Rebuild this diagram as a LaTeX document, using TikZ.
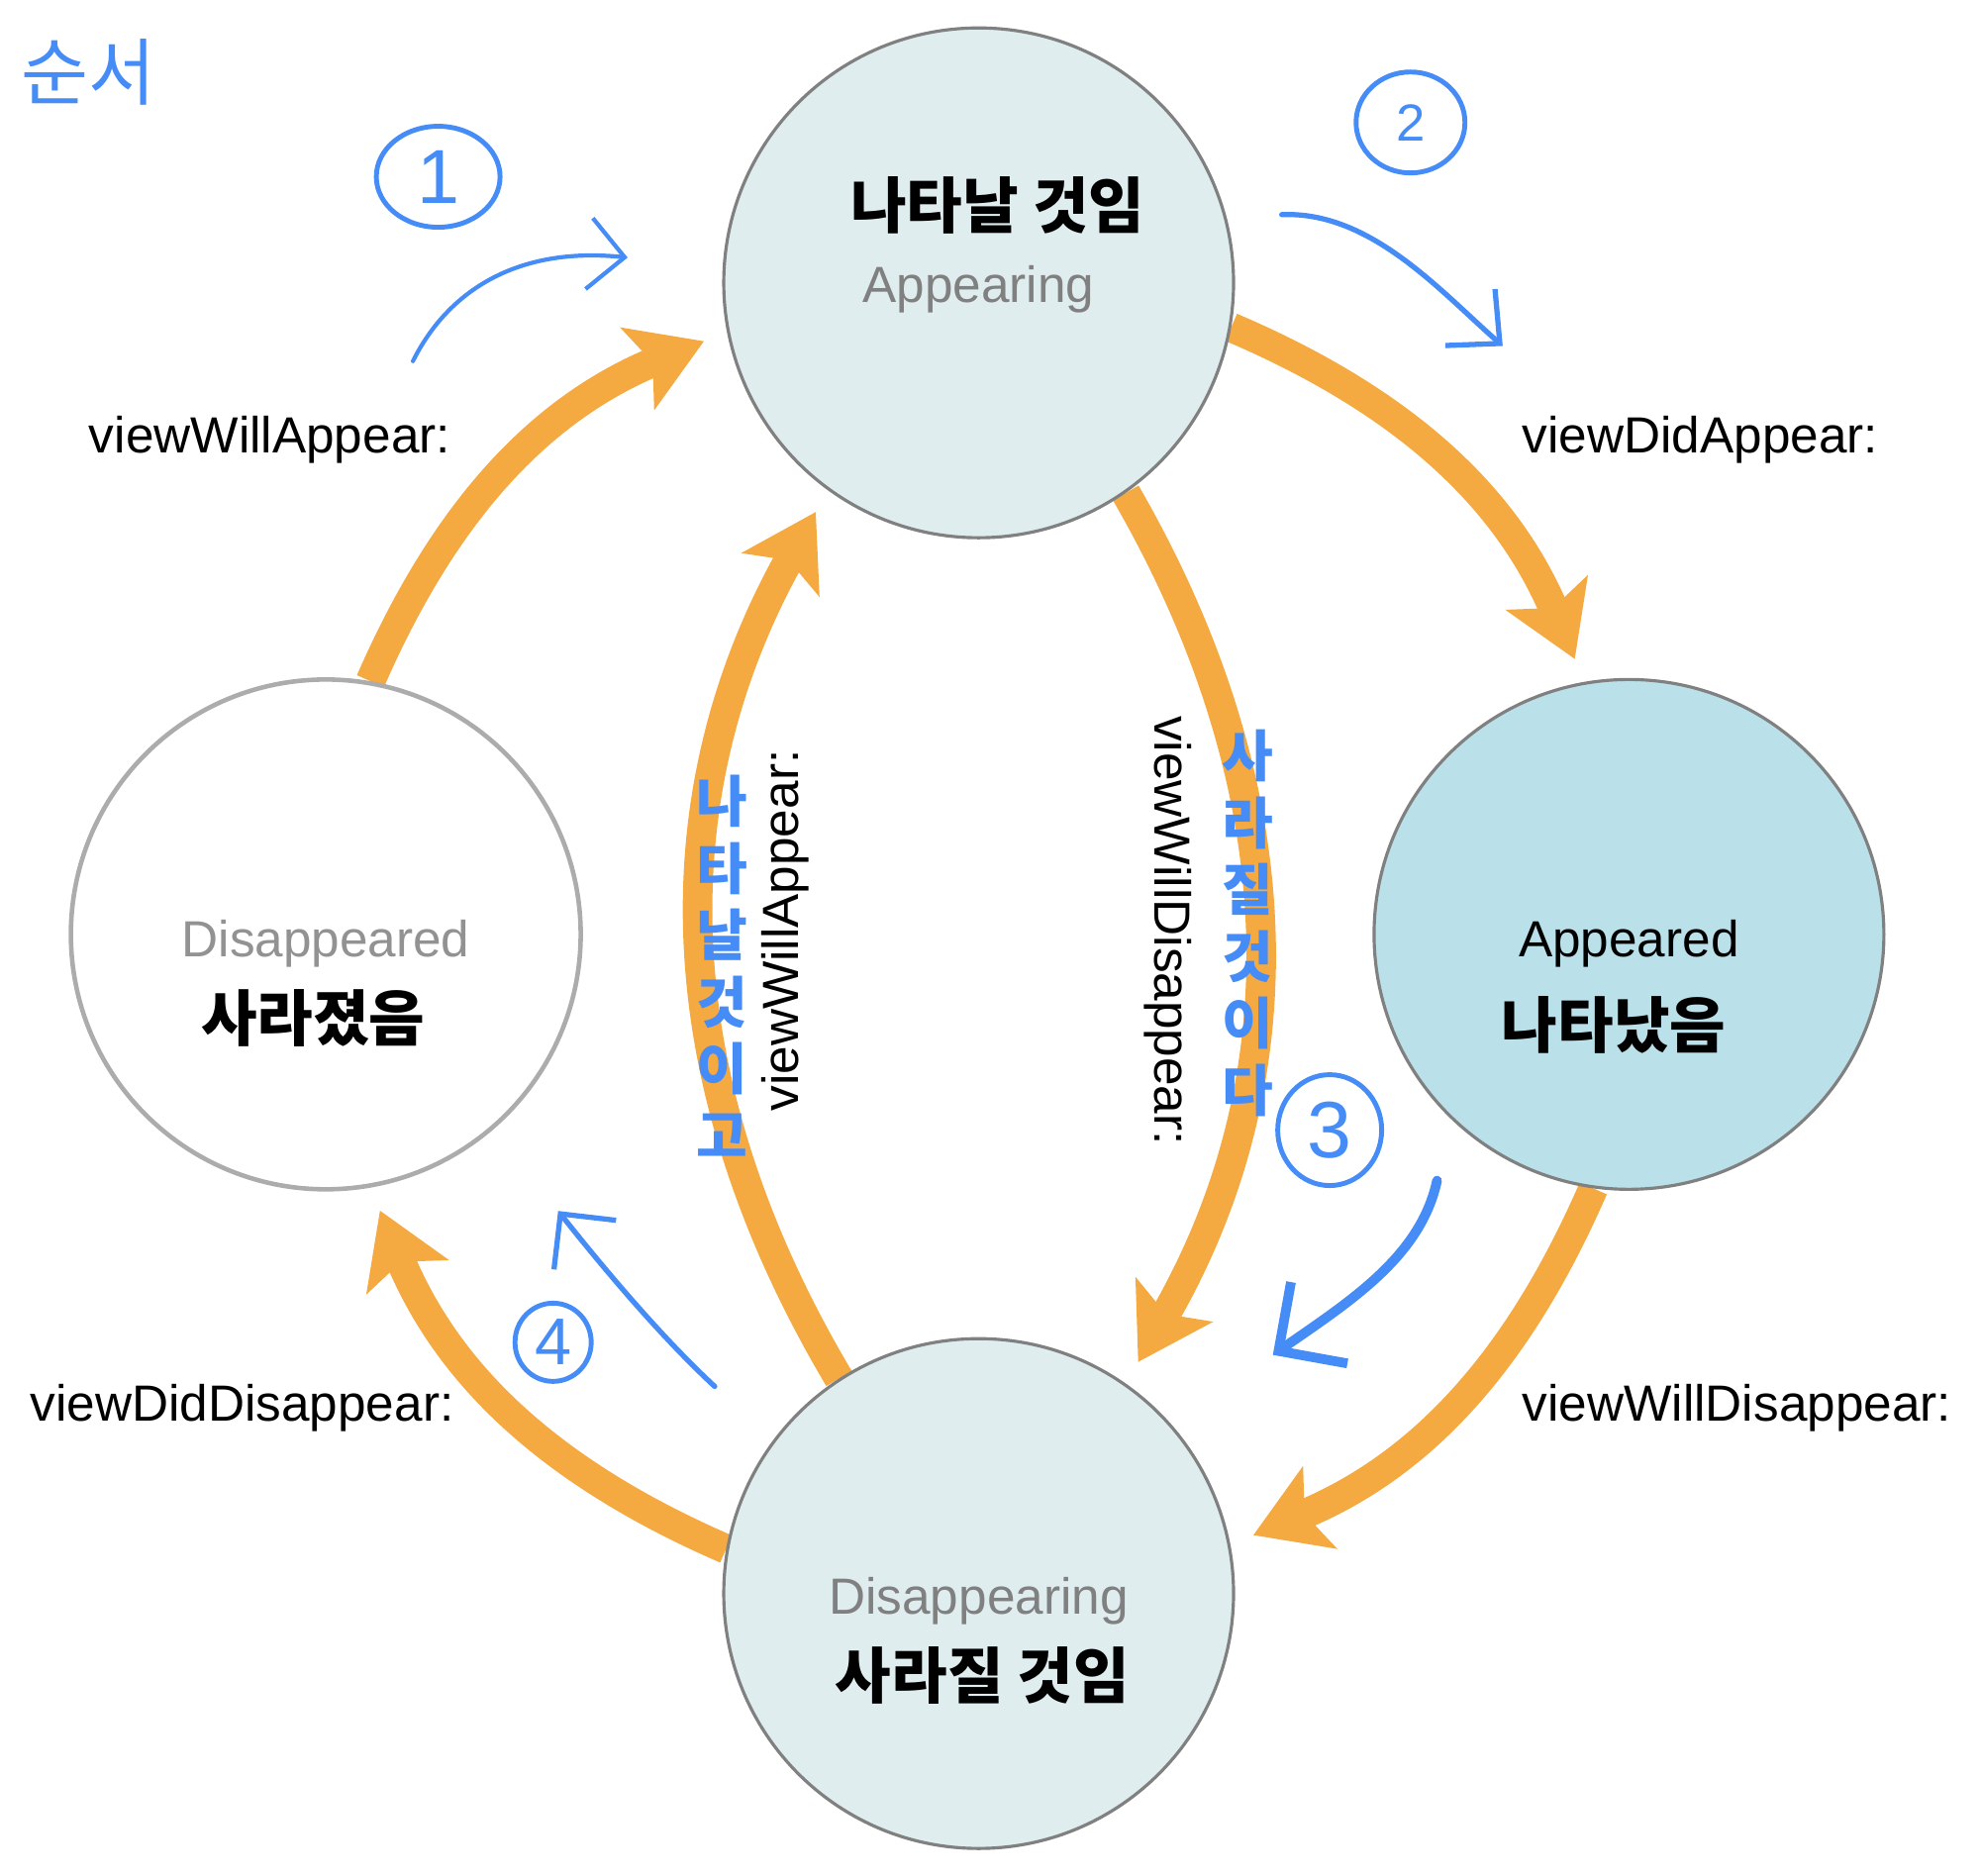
\documentclass[tikz,border=0pt]{standalone}
\usepackage{fontspec}
\setmainfont{Liberation Sans}
\newfontfamily\kr{Noto Sans CJK KR}
\usetikzlibrary{arrows.meta,shapes.geometric,backgrounds}
\definecolor{flowor}{RGB}{245,169,65}
\definecolor{penblue}{RGB}{70,140,247}
\definecolor{statefill}{RGB}{223,237,238}
\definecolor{shownfill}{RGB}{186,224,234}
\definecolor{rimgray}{RGB}{128,128,128}
\definecolor{fadegray}{RGB}{172,172,172}
\begin{document}
\begin{tikzpicture}[x=0.012755cm,y=0.012755cm,line join=round]
    \tikzset{state/.style={circle,draw=rimgray,line width=0.9pt,minimum size=5.15cm,inner sep=0pt},
        flow/.style={draw=flowor,line width=8.5pt,-{Stealth[length=7.2mm,width=8.8mm,inset=1.6mm]},shorten >=0.25cm},
        enname/.style={font=\fontsize{14.6}{17}\selectfont,text=rimgray},
        krname/.style={font=\kr\bfseries\fontsize{17.5}{20}\selectfont},
        call/.style={font=\fontsize{14.6}{17}\selectfont,inner sep=0pt},
        pen/.style={draw=penblue,line width=1.2pt,line cap=round},
        penmark/.style={ellipse,draw=penblue,line width=1.4pt,text=penblue,inner sep=0pt},
        penword/.style={text=penblue,font=\kr\bfseries\fontsize{16}{19.2}\selectfont,align=center,inner sep=0pt}}
    \def \outbend{22}
    \def \inbend{30}
    \useasboundingbox (0,0) rectangle (1568,1485);
    % states
    \node[state,fill=statefill] (app) at (775,1261) {};
    \node[state,fill=shownfill] (shown) at (1290,745) {};
    \node[state,fill=statefill] (going) at (775,223) {};
    \node[state,fill=white,draw=fadegray,line width=1.3pt] (gone) at (258,745) {};
    \node[krname] (app-kr) at (790,1322) {나타날 것임};
    \node[enname] (app-en) at (775,1256) {Appearing};
    \node[enname,text=black] (shown-en) at (1290,738) {Appeared};
    \node[krname] (shown-kr) at (1278,673) {나타났음};
    \node[enname] (going-en) at (775,217) {Disappearing};
    \node[krname] (going-kr) at (778,158) {사라질 것임};
    \node[enname,text=fadegray!85!black] (gone-en) at (258,738) {Disappeared};
    \node[krname] (gone-kr) at (248,679) {사라졌음};
    % transitions
    \begin{scope}[on background layer]
        \draw[flow] (gone.80) to[bend left=\outbend] (app.191);
        \draw[flow] (app.350) to[bend left=\outbend] (shown.100);
        \draw[flow] (shown.262) to[bend left=\outbend] (going.11);
        \draw[flow] (going.170) to[bend left=\outbend] (gone.280);
        \draw[flow] (going.123) to[bend left=\inbend] (app.234);
        \draw[flow] (app.305) to[bend left=\inbend] (going.55);
    \end{scope}
    \node[call,anchor=west] (will-app) at (70,1137) {viewWillAppear:};
    \node[call,anchor=west] (did-app) at (1205,1137) {viewDidAppear:};
    \node[call,anchor=west] (will-dis) at (1205,370) {viewWillDisappear:};
    \node[call,anchor=east] (did-dis) at (360,370) {viewDidDisappear:};
    \node[call,rotate=90] (will-app-in) at (622,748) {viewWillAppear:};
    \node[call,rotate=-90] (will-dis-in) at (925,748) {viewWillDisappear:};
    % pen notes
    \node[penword,font=\kr\fontsize{21}{24}\selectfont] (order) at (70,1428) {순서};
    \node[penmark,minimum width=1.25cm,minimum height=1.02cm,font=\fontsize{22}{24}\selectfont] (mark1) at (347,1345) {1};
    \node[penmark,minimum width=1.10cm,minimum height=1.02cm,font=\fontsize{15}{18}\selectfont] (mark2) at (1117,1388) {2};
    \node[penmark,minimum width=1.05cm,minimum height=1.12cm,font=\fontsize{23}{26}\selectfont] (mark3) at (1053,590) {3};
    \node[penmark,minimum width=0.77cm,minimum height=0.79cm,font=\fontsize{19}{22}\selectfont] (mark4) at (438,422) {4};
    \node[penword] (app-note) at (572,720) {나\\타\\날\\것\\이\\고};
    \node[penword] (dis-note) at (988,754) {사\\라\\질\\것\\이\\다};
    \coordinate (p1a) at (327,1199);
    \coordinate (p1b) at (497,1281);
    \coordinate (p2a) at (1015,1315);
    \coordinate (p2b) at (1190,1211);
    \coordinate (p3a) at (1138,550);
    \coordinate (p3b) at (1008,412);
    \coordinate (p4a) at (566,387);
    \coordinate (p4b) at (442,526);
    \draw[pen,-{Straight Barb[length=3.6mm,width=7.2mm]}] (p1a) .. controls (355,1255) and (410,1290) .. (p1b);
    \draw[pen,line width=1.5pt,-{Straight Barb[length=4mm,width=7.6mm]}] (p2a) .. controls (1085,1318) and (1140,1255) .. (p2b);
    \draw[pen,line width=2.8pt,-{Straight Barb[length=5mm,width=10mm]}] (p3a) .. controls (1125,490) and (1070,455) .. (p3b);
    \draw[pen,line width=1.5pt,-{Straight Barb[length=4mm,width=8mm]}] (p4a) .. controls (525,425) and (480,478) .. (p4b);
\end{tikzpicture}
\end{document}
